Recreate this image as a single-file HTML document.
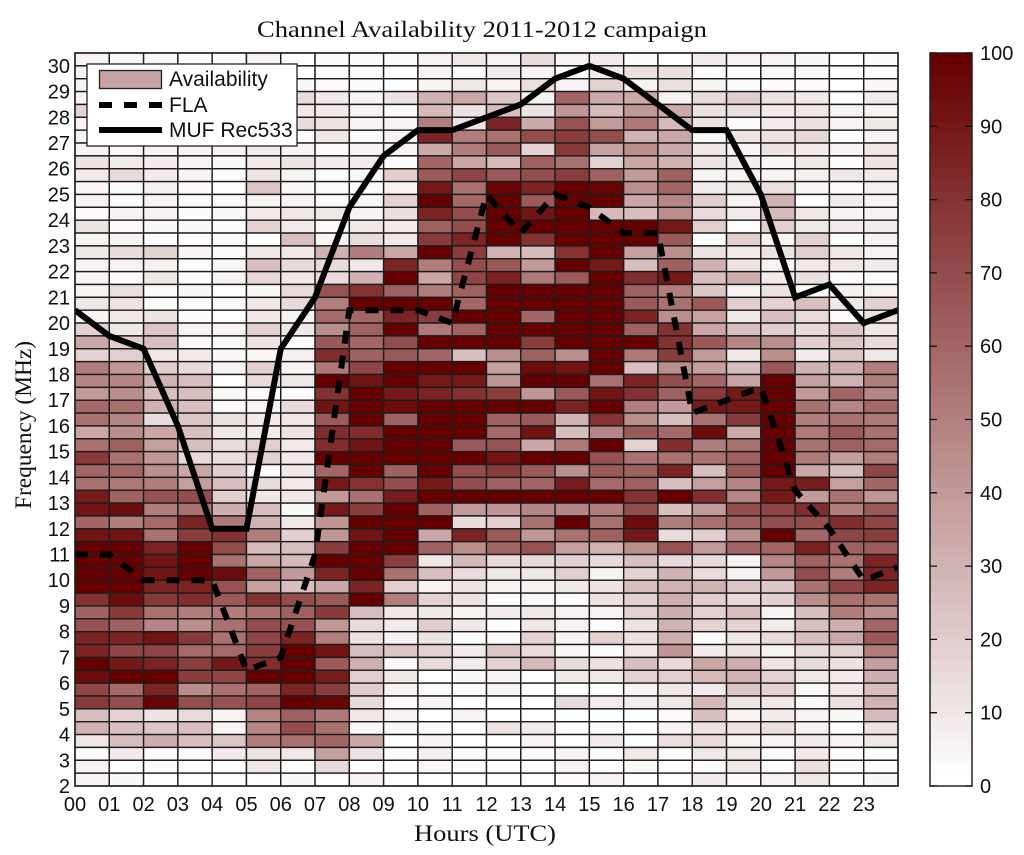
<!DOCTYPE html>
<html lang="en">
<head>
<meta charset="utf-8">
<title>Channel Availability 2011-2012 campaign</title>
<style>
html,body{margin:0;padding:0;background:#fff;}
svg{display:block;}
.tick{font-family:"Liberation Sans",sans-serif;font-size:20px;fill:#111;}
.serif{font-family:"Liberation Serif",serif;font-size:23px;fill:#111;}
.leg{font-family:"Liberation Sans",sans-serif;font-size:21px;fill:#111;}
</style>
</head>
<body>
<svg id="chart" xmlns="http://www.w3.org/2000/svg" width="1024" height="855" viewBox="0 0 1024 855">
  <rect x="0" y="0" width="1024" height="855" fill="#fff"/>
  <text class="serif" x="482" y="37" text-anchor="middle" textLength="450" lengthAdjust="spacingAndGlyphs">Channel Availability 2011-2012 campaign</text>
  <text class="serif" x="485" y="841" text-anchor="middle" textLength="142" lengthAdjust="spacingAndGlyphs">Hours (UTC)</text>
  <text class="serif" transform="translate(31,425) rotate(-90)" text-anchor="middle" textLength="168" lengthAdjust="spacingAndGlyphs">Frequency (MHz)</text>
  <defs><clipPath id="plot-clip"><rect x="75" y="53" width="823" height="733"/></clipPath></defs>
  <g id="cells"></g>
  <g id="lines" clip-path="url(#plot-clip)"></g>
  <rect x="75" y="53" width="823" height="733" fill="none" stroke="#222" stroke-width="1.5"/>
  <g id="xticks"></g>
  <g id="yticks"></g>
  <g>
    <rect x="87" y="64" width="210" height="82" fill="#fff" stroke="#222" stroke-width="1.3"/>
    <rect x="99.5" y="70.5" width="62" height="18" fill="#c6a2a2" stroke="#222" stroke-width="1.3"/>
    <text class="leg" x="169" y="86">Availability</text>
    <line x1="99" y1="105" x2="162" y2="105" stroke="#000" stroke-width="6" stroke-dasharray="13 12"/>
    <text class="leg" x="169" y="112">FLA</text>
    <line x1="99" y1="130" x2="162" y2="130" stroke="#000" stroke-width="6"/>
    <text class="leg" x="169" y="137">MUF Rec533</text>
  </g>
  <g id="colorbar"></g>
</svg>
<script>
const hourLabels = ["00","01","02","03","04","05","06","07","08","09","10","11","12","13","14","15","16","17","18","19","20","21","22","23"];
const freqLabels = [2,3,4,5,6,7,8,9,10,11,12,13,14,15,16,17,18,19,20,21,22,23,24,25,26,27,28,29,30];
const colorbarLabels = [0,10,20,30,40,50,60,70,80,90,100];
const flaValues = [11,11,10,10,10,6.5,7,11,20.5,20.5,20.5,20,25,23.5,25,24.5,23.5,23.5,16.5,17,17.5,13.5,12,10,10.5];
const mufValues = [20.5,19.5,19,16,12,12,19,21,24.5,26.5,27.5,27.5,28,28.5,29.5,30,29.5,28.5,27.5,27.5,25,21,21.5,20,20.5];
// availability (%), rows from 30-30.5 MHz (top) down to 2-2.5 MHz (bottom), columns are hours 00-23
const availability = [
[6,4,4,3,3,5,1,3,2,2,6,10,6,15,6,8,3,1,8,5,5,4,1,3],
[5,5,5,5,5,5,1,2,2,0,6,3,8,5,0,8,14,14,3,2,4,4,1,2],
[5,5,5,5,5,5,4,2,2,1,5,10,5,14,5,18,5,14,6,2,2,2,1,4],
[6,6,6,6,6,12,15,8,6,12,30,35,22,6,60,33,33,6,15,20,12,8,0,8],
[18,6,6,6,6,6,10,8,5,3,28,12,25,12,42,27,42,33,12,14,8,10,5,6],
[5,5,5,5,5,5,15,12,5,6,50,12,85,33,68,40,52,28,12,2,8,14,6,10],
[5,5,5,5,5,5,3,10,3,5,85,50,55,70,75,70,30,35,4,12,12,16,1,5],
[5,4,5,5,5,8,5,3,5,5,33,50,65,18,78,37,45,33,10,6,12,8,5,10],
[12,8,8,5,4,8,12,8,8,3,60,35,28,62,55,18,35,30,12,8,4,10,3,12],
[8,15,8,6,3,12,5,3,4,20,65,72,65,70,75,62,40,62,6,5,5,7,10,8],
[4,3,7,3,1,22,4,3,2,5,90,55,97,85,100,97,45,60,8,10,14,4,3,7],
[6,2,5,3,2,6,5,3,4,18,100,58,100,65,100,100,35,48,20,5,30,0,8,6],
[3,5,5,2,4,8,10,10,5,14,85,70,100,92,100,28,25,45,15,8,28,10,6,5],
[12,2,4,4,3,18,8,3,10,8,62,70,100,100,100,100,100,90,20,0,20,10,8,8],
[5,5,3,3,2,1,25,6,15,10,78,85,100,80,100,100,100,65,3,20,6,18,2,6],
[10,15,18,5,2,10,10,30,50,35,100,75,30,28,80,100,38,45,12,8,12,20,10,5],
[5,5,7,1,4,25,15,15,10,85,50,70,65,40,100,90,25,62,30,12,5,10,10,8],
[5,2,10,1,5,16,10,15,30,100,35,72,85,52,65,100,82,90,25,32,8,14,3,2],
[5,14,2,4,0,4,15,68,80,62,50,62,100,100,100,100,62,50,22,5,12,3,7,5],
[10,12,2,2,4,10,15,50,100,100,100,60,100,100,100,100,65,55,65,20,18,25,10,18],
[5,10,12,2,1,10,5,58,60,85,75,100,100,60,100,100,85,45,37,10,25,15,3,12],
[18,10,22,5,5,18,10,45,62,100,52,62,100,100,100,100,62,80,35,25,20,15,22,10],
[35,20,25,4,4,12,3,65,60,70,100,100,100,75,100,100,100,80,65,48,45,20,22,15],
[18,20,10,8,4,4,7,82,62,65,60,25,45,62,45,100,52,75,40,10,45,8,22,10],
[50,42,20,15,5,20,6,52,72,100,100,100,38,95,92,100,25,45,38,25,65,30,32,50],
[48,48,30,25,0,15,10,100,92,100,90,90,42,100,100,55,85,70,60,37,100,38,30,50],
[40,45,25,25,4,3,2,80,100,90,85,80,75,42,65,92,80,62,78,90,100,40,60,48],
[58,55,30,25,2,5,15,92,100,95,100,100,100,100,85,100,50,40,90,90,100,55,47,58],
[55,48,15,22,14,8,10,65,100,62,100,100,62,65,30,80,45,25,55,78,100,50,55,52],
[35,45,35,25,10,8,12,82,82,100,100,100,58,92,25,48,65,58,95,33,100,52,65,55],
[55,62,38,25,15,20,8,82,92,100,100,65,68,35,52,100,18,82,50,55,100,55,62,58],
[78,55,42,15,14,18,8,100,100,100,100,100,92,100,100,68,55,55,55,62,100,52,38,50],
[60,60,45,35,20,3,10,60,100,62,100,70,75,65,45,65,62,85,25,65,100,35,25,72],
[55,52,50,38,25,15,8,90,80,70,90,70,62,60,88,58,62,25,38,48,90,88,38,60],
[88,62,68,70,20,10,10,40,55,88,100,100,100,100,100,100,80,100,82,48,90,40,55,42],
[92,95,50,55,32,25,4,90,75,100,62,40,42,48,48,50,70,25,40,70,72,82,50,65],
[60,50,58,85,52,30,10,42,100,100,100,15,20,55,100,55,95,50,55,62,70,70,82,72],
[92,92,55,75,80,50,20,42,92,100,35,85,65,42,55,62,90,15,20,45,100,60,72,75],
[100,100,85,100,70,28,25,75,100,100,62,45,60,68,38,30,45,68,40,60,60,86,62,64],
[100,100,92,100,55,35,28,100,100,75,10,28,15,15,18,15,25,15,15,5,48,62,55,85],
[100,100,92,100,95,62,40,85,100,55,25,15,10,10,20,6,18,30,15,6,40,70,50,85],
[100,100,85,85,68,38,25,35,85,20,6,12,5,6,10,12,25,30,30,22,22,55,72,85],
[80,95,78,82,65,80,70,65,100,50,18,12,2,4,2,12,18,32,20,15,18,45,55,55],
[62,78,55,50,50,55,62,78,25,10,10,5,8,10,6,5,18,32,18,25,5,25,50,45],
[68,62,48,45,55,70,68,42,15,8,20,10,3,10,6,2,12,30,18,18,8,25,32,60],
[85,85,92,78,55,72,85,50,12,6,12,3,3,18,5,18,12,32,2,10,15,25,35,65],
[85,72,72,58,58,75,100,92,25,22,18,8,22,15,4,3,10,42,8,12,6,15,18,50],
[100,90,85,75,90,82,100,65,32,4,15,8,18,28,15,12,25,15,35,32,12,15,12,38],
[95,100,100,75,72,100,100,88,20,10,1,4,5,0,10,10,18,20,28,30,18,10,8,32],
[72,58,85,45,55,62,85,75,20,5,3,3,6,0,0,1,6,10,8,22,18,4,10,25],
[78,70,98,70,68,72,100,98,15,2,5,1,1,0,15,8,8,10,28,12,10,4,14,30],
[25,18,12,15,5,48,62,52,10,6,0,5,0,0,0,0,0,3,25,5,8,5,4,28],
[30,25,22,25,6,48,70,55,4,4,2,0,12,8,1,3,0,5,12,12,14,5,0,12],
[10,25,32,25,22,50,55,60,35,1,6,0,0,5,1,8,0,14,15,5,6,8,6,10],
[3,8,2,2,8,12,10,38,12,3,7,3,3,3,6,3,10,1,10,10,3,8,0,0],
[6,0,3,1,0,10,1,15,0,1,4,3,0,0,5,1,4,0,3,10,0,14,2,0],
[5,4,0,0,1,0,4,1,5,1,0,0,0,0,3,5,0,0,8,2,6,10,0,4]
];

const NS = "http://www.w3.org/2000/svg";
const plotLeft = 75, plotRight = 898, plotTop = 53, plotBottom = 786;
const freqMin = 2, freqMax = 30.5, hourSpan = 24;
function xScale(h){ return plotLeft + (plotRight - plotLeft) * h / hourSpan; }
function yScale(f){ return plotBottom - (plotBottom - plotTop) * (f - freqMin) / (freqMax - freqMin); }
function cbScale(v){ return plotBottom - (plotBottom - plotTop) * v / 100; }
function colorOf(v){
  const level = Math.min(63, Math.floor(v / 100 * 64));
  const t = level / 63;
  const r = Math.round(255 - 153 * t);
  const g = Math.round(255 * (1 - t));
  return "rgb(" + r + "," + g + "," + g + ")";
}
function make(tag, attrs, parent){
  const el = document.createElementNS(NS, tag);
  for (const k in attrs) el.setAttribute(k, attrs[k]);
  parent.appendChild(el);
  return el;
}

const cellsG = document.getElementById("cells");
availability.forEach(function(row, k){
  const fLow = freqMax - (k + 1) * 0.5;
  row.forEach(function(v, h){
    const x0 = xScale(h), x1 = xScale(h + 1), y0 = yScale(fLow + 0.5), y1 = yScale(fLow);
    const r = make("rect", {x:x0, y:y0, width:x1 - x0, height:y1 - y0, fill:colorOf(v), stroke:"#1c1c1c", "stroke-width":1.4}, cellsG);
    
    
  });
});

function pathFrom(values){
  return values.map(function(f, h){ return (h ? "L" : "M") + xScale(h).toFixed(2) + " " + yScale(f).toFixed(2); }).join(" ");
}
const linesG = document.getElementById("lines");
const mufLine = make("path", {d:pathFrom(mufValues), fill:"none", stroke:"#000", "stroke-width":6, "stroke-linejoin":"miter"}, linesG);


const flaLine = make("path", {d:pathFrom(flaValues), fill:"none", stroke:"#000", "stroke-width":6, "stroke-dasharray":"13 12", "stroke-linejoin":"miter"}, linesG);



const xG = document.getElementById("xticks");
hourLabels.forEach(function(label, h){
  const t = make("text", {x:xScale(h), y:811, "text-anchor":"middle", "class":"tick"}, xG);
  t.textContent = label;
  
  
});
const yG = document.getElementById("yticks");
freqLabels.forEach(function(f){
  const t = make("text", {x:70, y:yScale(f) + 7, "text-anchor":"end", "class":"tick"}, yG);
  t.textContent = f;
  
  
});

const cbG = document.getElementById("colorbar");
for (let i = 0; i < 64; i++){
  const vLow = i * 100 / 64, vHigh = (i + 1) * 100 / 64;
  const band = make("rect", {x:930, y:cbScale(vHigh), width:42, height:cbScale(vLow) - cbScale(vHigh) + 0.4, fill:colorOf((vLow + vHigh) / 2)}, cbG);
  
  
}
const cbFrame = make("rect", {x:930, y:plotTop, width:42, height:plotBottom - plotTop, fill:"none", stroke:"#222", "stroke-width":1.5}, cbG);


colorbarLabels.forEach(function(v){
  const y = cbScale(v);
  const tl = make("path", {d:"M930 " + y + "H937M972 " + y + "H965", stroke:"#111", "stroke-width":1.3, fill:"none"}, cbG);
  
  
  const t = make("text", {x:980, y:y + 7, "class":"tick"}, cbG);
  t.textContent = v;
  
  
});
</script>
</body>
</html>
